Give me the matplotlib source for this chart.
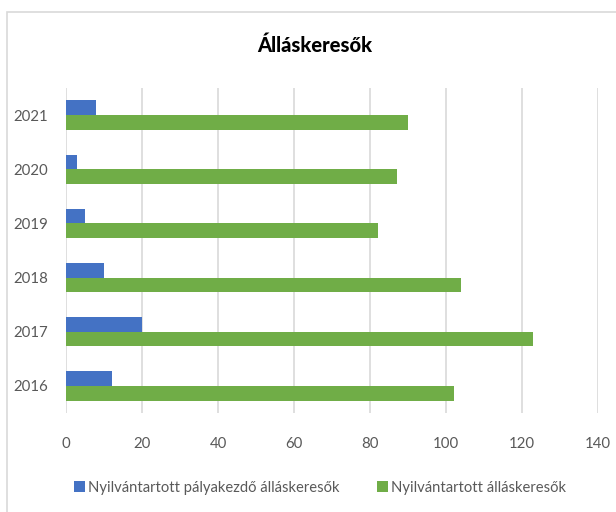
import numpy as np
import matplotlib
matplotlib.use("Agg")
import matplotlib.pyplot as plt
from matplotlib.patches import Rectangle

plt.rcParams['font.family'] = ['Lato', 'DejaVu Sans']

years = ['2016', '2017', '2018', '2019', '2020', '2021']
palyakezdo = [12, 20, 10, 5, 3, 8]
osszes = [102, 123, 104, 82, 87, 90]
labels = ['Nyilvántartott pályakezdő álláskeresők', 'Nyilvántartott álláskeresők']

blue = '#4472C4'
green = '#70AD47'
txt = '#595959'

fig = plt.figure(figsize=(6.16, 5.12), dpi=100)
ax = fig.add_axes([66/616, 1-413/512, 532/616, 325/512])

# light chart frame like the Excel chart area
fig.patches.append(Rectangle((7/616, -0.1), 1.2, 1 - 12/512 + 0.1, transform=fig.transFigure,
                             fill=False, edgecolor='#D9D9D9', linewidth=1.2))

y = np.arange(len(years))
h = 0.27
ax.barh(y + h/2, palyakezdo, height=h, color=blue, label=labels[0], zorder=3)
ax.barh(y - h/2, osszes, height=h, color=green, label=labels[1], zorder=3)

ax.set_xlim(0, 140)
ax.set_ylim(-0.5, len(years) - 0.5)
ax.set_xticks(np.arange(0, 141, 20))
ax.set_yticks(y)
ax.set_yticklabels(years)
ax.grid(axis='x', color='#D9D9D9', linewidth=1.2, zorder=0)
for s in ax.spines.values():
    s.set_visible(False)
ax.tick_params(axis='both', length=0, labelsize=10.8, labelcolor=txt)
ax.tick_params(axis='x', pad=17)
ax.tick_params(axis='y', pad=13)

fig.text(315/616, 1 - 45/512, 'Álláskeresők', ha='center', va='center',
         fontsize=14.5, fontweight='black', color='black')

fig.legend(loc='center', bbox_to_anchor=(320/616, 1 - 488/512), ncol=2, frameon=False,
           fontsize=10.6, labelcolor=txt, handlelength=0.75, handleheight=0.75,
           handletextpad=0.2, columnspacing=2.5)

fig.savefig('out.png', dpi=100)
